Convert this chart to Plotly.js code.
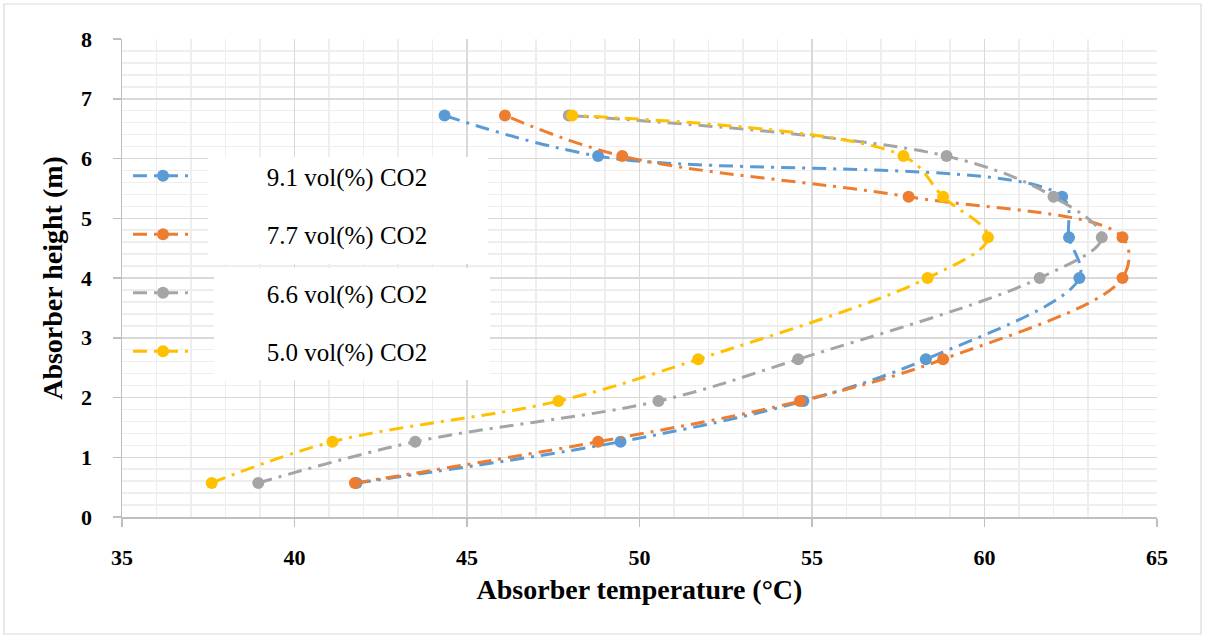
<!DOCTYPE html>
<html>
<head>
<meta charset="utf-8">
<script src="https://cdn.plot.ly/plotly-3.0.1.min.js"></script>
<style>html,body{margin:0;padding:0;background:#fff;}#chart{width:1205px;height:638px;}</style>
</head>
<body>
<div id="chart"></div>
<script>
// Data
const heights = [0.57, 1.26, 1.94, 2.64, 4.00, 4.68, 5.36, 6.04, 6.72];
const temp91 = [41.8, 49.45, 54.75, 58.3, 62.75, 62.45, 62.25, 48.8, 44.35];
const temp77 = [41.75, 48.8, 54.65, 58.8, 64.0, 64.0, 57.8, 49.5, 46.1];
const temp66 = [38.95, 43.5, 50.55, 54.6, 61.6, 63.4, 62.0, 58.9, 47.95];
const temp50 = [37.6, 41.1, 47.65, 51.7, 58.35, 60.1, 58.8, 57.65, 48.05];
const seriesNames = ['9.1 vol(%) CO2', '7.7 vol(%) CO2', '6.6 vol(%) CO2', '5.0 vol(%) CO2'];
const seriesColors = ['#5B9BD5', '#ED7D31', '#A5A5A5', '#FFC000'];
const seriesTemps = [temp91, temp77, temp66, temp50];

// plot area in pixels
const L = 122, R = 1157, T = 39, B = 517;
const px2x = p => (p - L) / (R - L);
const px2y = p => (B - p) / (B - T);
const SERIF = "Liberation Serif";
const pad = '\u00a0'.repeat(11);

const traces = seriesTemps.map((t, i) => ({
  x: t, y: heights, type: 'scatter', mode: 'lines+markers',
  name: pad + seriesNames[i], legendgroup: 'g' + i,
  line: {color: seriesColors[i], width: 3, shape: 'spline', smoothing: 1, dash: '14px,7px,3px,7px'},
  marker: {color: seriesColors[i], size: 12, symbol: 'circle'}
}));

const layout = {
  width: 1205, height: 638,
  margin: {l: L, r: 1205 - R, t: T, b: 638 - B},
  paper_bgcolor: '#fff', plot_bgcolor: '#fff',
  font: {family: SERIF, color: '#000'},
  showlegend: true,
  legend: {
    x: px2x(128), y: px2y(153), xanchor: 'left', yanchor: 'top',
    bgcolor: 'rgba(0,0,0,0)', font: {family: SERIF, size: 25, color: '#000'},
    itemwidth: 60, tracegroupgap: 23, traceorder: 'grouped'
  },
  xaxis: {
    range: [35, 65], dtick: 5, tick0: 35,
    showline: true, linecolor: '#bfbfbf', linewidth: 1.5,
    ticks: 'outside', ticklen: 8, tickcolor: '#bfbfbf', tickwidth: 1.5,
    showgrid: true, gridcolor: '#d9d9d9', gridwidth: 1.5, zeroline: false,
    minor: {dtick: 1, showgrid: true, gridcolor: '#eeeeee', gridwidth: 1.5},
    tickfont: {family: SERIF, size: 22, color: '#000', weight: 700}, ticklabelstandoff: 12,
    title: {text: 'Absorber temperature (°C)', font: {family: SERIF, size: 28, color: '#000', weight: 'bold'}, standoff: 10}
  },
  yaxis: {
    range: [0, 8], dtick: 1, tick0: 0,
    showline: true, linecolor: '#bfbfbf', linewidth: 1.5,
    ticks: 'outside', ticklen: 8, tickcolor: '#bfbfbf', tickwidth: 1.5,
    showgrid: true, gridcolor: '#d9d9d9', gridwidth: 1.5, zeroline: false,
    minor: {dtick: 0.2, showgrid: true, gridcolor: '#eeeeee', gridwidth: 1.5},
    tickfont: {family: SERIF, size: 22, color: '#000', weight: 700}, ticklabelstandoff: 16,
    title: {text: 'Absorber height (m)', font: {family: SERIF, size: 28, color: '#000', weight: 'bold'}, standoff: 10}
  },
  shapes: [
    {type: 'rect', xref: 'paper', yref: 'paper', layer: 'above',
     x0: px2x(208), x1: px2x(488), y0: px2y(157), y1: px2y(264), fillcolor: '#fff', line: {width: 0}},
    {type: 'rect', xref: 'paper', yref: 'paper', layer: 'above',
     x0: px2x(214), x1: px2x(490), y0: px2y(268), y1: px2y(380), fillcolor: '#fff', line: {width: 0}},
    {type: 'rect', xref: 'paper', yref: 'paper', layer: 'above',
     x0: px2x(4), x1: px2x(1201), y0: px2y(4), y1: px2y(634), fillcolor: 'rgba(0,0,0,0)', line: {color: '#d9d9d9', width: 1.2}}
  ]
};

Plotly.newPlot('chart', traces, layout, {displayModeBar: false, staticPlot: true});
</script>
</body>
</html>
